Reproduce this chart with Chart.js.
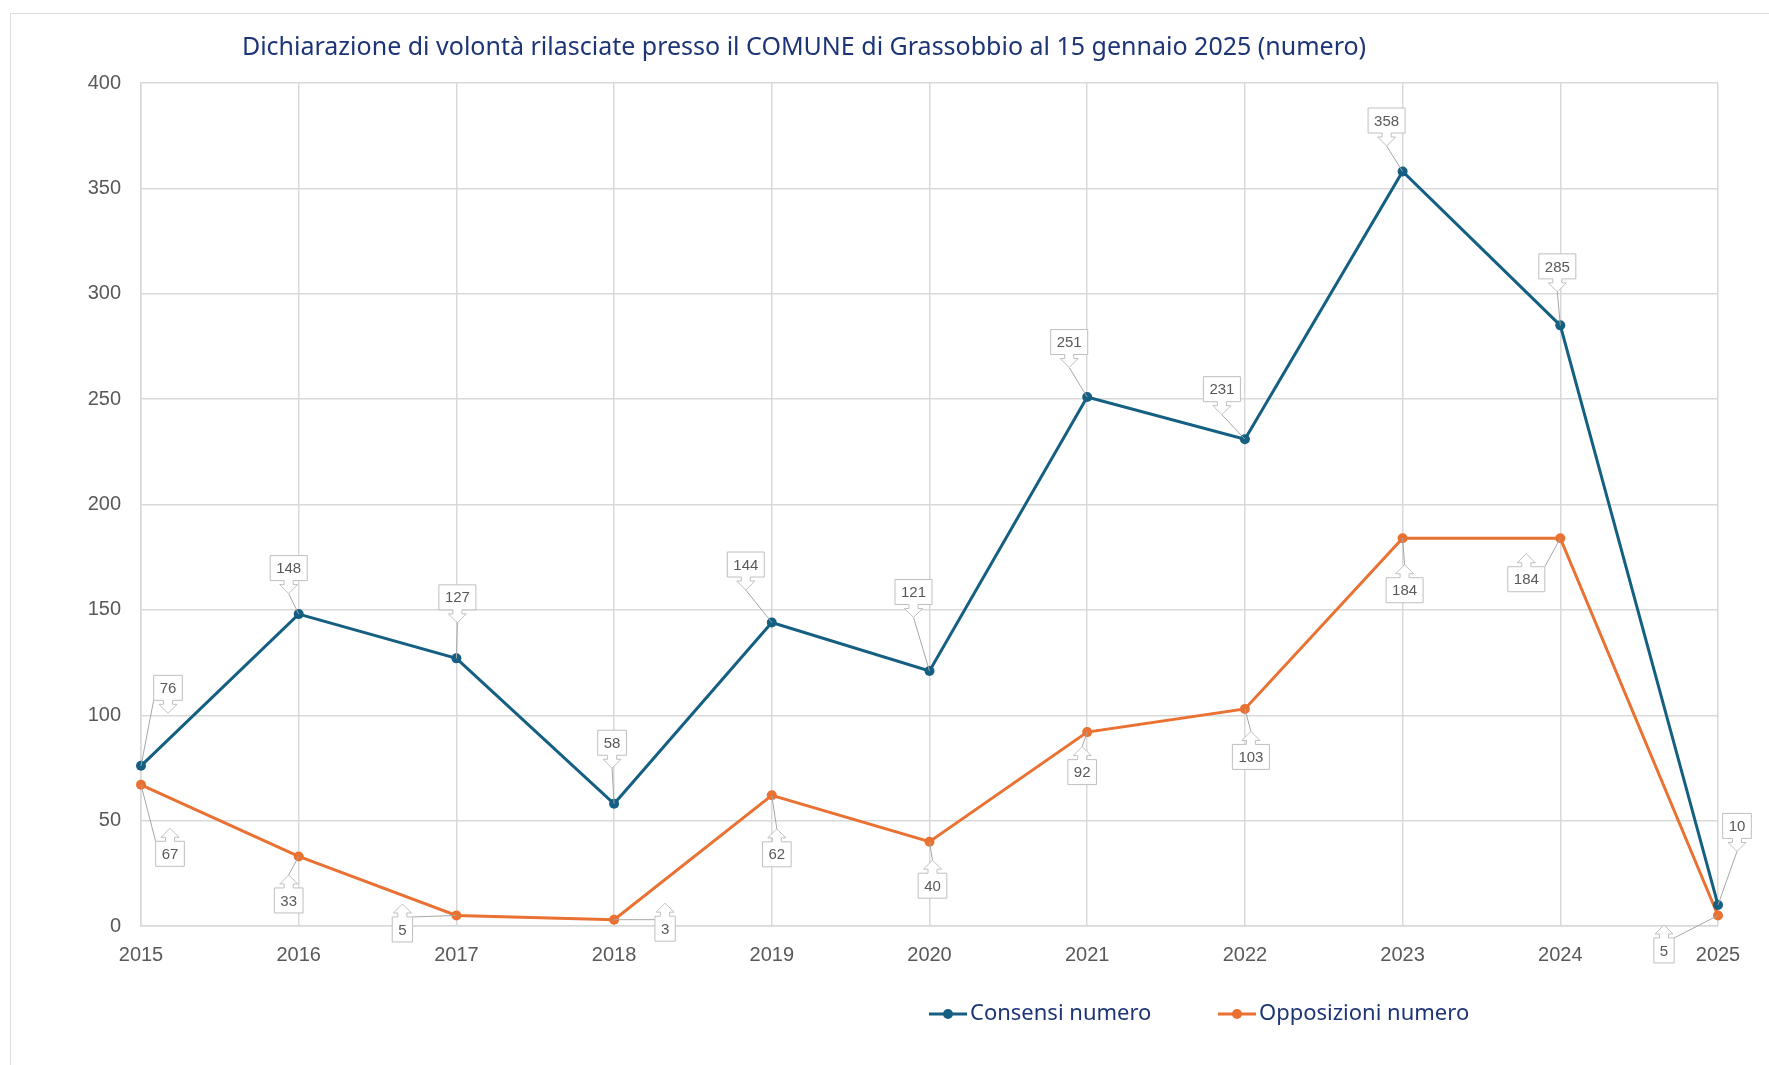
<!DOCTYPE html>
<html lang="it">
<head>
    <meta charset="UTF-8">
    <title>Dichiarazione di volontà - Grassobbio</title>
    <script src="https://cdn.jsdelivr.net/npm/chart.js"></script>
    <style>
        body {
            margin: 0;
            background: #ffffff;
        }

        #frame {
            position: absolute;
            left: 10px;
            top: 13px;
            width: 1800px;
            height: 1100px;
            border-left: 1px solid #dcdcdc;
            border-top: 1px solid #dcdcdc;
        }

        #chart {
            position: absolute;
            left: 0;
            top: 0;
        }
    </style>
</head>
<body>
    <div id="frame"></div>
    <canvas id="chart" width="1769" height="1065"></canvas>

    <script>
        const years = ['2015', '2016', '2017', '2018', '2019', '2020', '2021', '2022', '2023', '2024', '2025'];
        const consensi = [76, 148, 127, 58, 144, 121, 251, 231, 358, 285, 10];
        const opposizioni = [67, 33, 5, 3, 62, 40, 92, 103, 184, 184, 5];

        // where each callout box sits, relative to its point (px)
        const consensiLabelPos = [[27, -78], [-10, -46], [1, -61], [-2, -61], [-26, -58], [-16, -79], [-18, -55], [-23, -50], [-16, -51], [-3, -59], [19, -79]];
        const opposizioniLabelPos = [[29, 69], [-10, 44], [-54, 14], [51, 9], [5, 59], [3, 44], [-5, 40], [6, 48], [2, 52], [-34, 41], [-54, 35]];

        const BLUE = '#156082';
        const ORANGE = '#E97132';
        const NAVY = '#1D3577';
        const GREY_TEXT = '#595959';
        const GRID = '#d9d9d9';

        function drawCallout(ctx, px, py, cx, cy, text, up) {
            ctx.font = '15px "Liberation Sans"';
            const w = Math.max(ctx.measureText(text).width + 12, 19);
            const h = 25;
            const x0 = cx - w / 2, y0 = cy - h / 2;
            const stem = 4.5, stemLen = 4, head = 9, tipLen = 13;
            const tipY = up ? y0 - tipLen : y0 + h + tipLen;

            // leader line
            let tx = cx, ty = tipY;
            if (Math.abs(px - cx) > w / 2 + 10) {
                tx = Math.min(Math.max(px, x0), x0 + w);
                ty = Math.min(Math.max(py, y0), y0 + h);
            }
            ctx.save();
            ctx.strokeStyle = '#a6a6a6';
            ctx.lineWidth = 1;
            ctx.beginPath();
            ctx.moveTo(px, py);
            ctx.lineTo(tx, ty);
            ctx.stroke();

            // box with arrow
            ctx.beginPath();
            if (up) {
                const b = y0;
                ctx.moveTo(x0, y0);
                ctx.lineTo(cx - stem, b);
                ctx.lineTo(cx - stem, b - stemLen);
                ctx.lineTo(cx - head, b - stemLen);
                ctx.lineTo(cx, b - tipLen);
                ctx.lineTo(cx + head, b - stemLen);
                ctx.lineTo(cx + stem, b - stemLen);
                ctx.lineTo(cx + stem, b);
                ctx.lineTo(x0 + w, y0);
                ctx.lineTo(x0 + w, y0 + h);
                ctx.lineTo(x0, y0 + h);
                ctx.closePath();
            } else {
                const b = y0 + h;
                ctx.moveTo(x0, y0);
                ctx.lineTo(x0 + w, y0);
                ctx.lineTo(x0 + w, b);
                ctx.lineTo(cx + stem, b);
                ctx.lineTo(cx + stem, b + stemLen);
                ctx.lineTo(cx + head, b + stemLen);
                ctx.lineTo(cx, b + tipLen);
                ctx.lineTo(cx - head, b + stemLen);
                ctx.lineTo(cx - stem, b + stemLen);
                ctx.lineTo(cx - stem, b);
                ctx.lineTo(x0, b);
                ctx.closePath();
            }
            ctx.fillStyle = '#ffffff';
            ctx.fill();
            ctx.strokeStyle = '#bfbfbf';
            ctx.stroke();

            ctx.fillStyle = GREY_TEXT;
            ctx.textAlign = 'center';
            ctx.textBaseline = 'middle';
            ctx.fillText(text, cx, cy + 1);
            ctx.restore();
        }

        const calloutPlugin = {
            id: 'callouts',
            afterDatasetsDraw(chart) {
                const ctx = chart.ctx;
                const sets = [consensiLabelPos, opposizioniLabelPos];
                chart.data.datasets.forEach((ds, i) => {
                    const meta = chart.getDatasetMeta(i);
                    meta.data.forEach((pt, j) => {
                        const [dx, dy] = sets[i][j];
                        drawCallout(ctx, pt.x, pt.y, pt.x + dx, pt.y + dy, String(ds.data[j]), dy > 0);
                    });
                });
            }
        };

        const titlePlugin = {
            id: 'titleText',
            afterDraw(chart) {
                const ctx = chart.ctx;
                ctx.save();
                ctx.font = '25px "Noto Sans"';
                ctx.fillStyle = NAVY;
                ctx.textAlign = 'center';
                ctx.textBaseline = 'middle';
                ctx.fillText('Dichiarazione di volontà rilasciate presso il COMUNE di Grassobbio al 15 gennaio 2025 (numero)', 804, 48);
                ctx.restore();
            }
        };

        const legendPlugin = {
            id: 'legendRow',
            afterDraw(chart) {
                const ctx = chart.ctx;
                const y = 1014;
                const starts = [929, 1218];
                ctx.save();
                ctx.font = '22px "Noto Sans"';
                ctx.textBaseline = 'middle';
                chart.data.datasets.forEach((ds, i) => {
                    const x = starts[i];
                    ctx.strokeStyle = ds.borderColor;
                    ctx.lineWidth = 3;
                    ctx.beginPath();
                    ctx.moveTo(x, y);
                    ctx.lineTo(x + 38, y);
                    ctx.stroke();
                    ctx.fillStyle = ds.borderColor;
                    ctx.beginPath();
                    ctx.arc(x + 19, y, 5, 0, Math.PI * 2);
                    ctx.fill();
                    ctx.fillStyle = NAVY;
                    ctx.textAlign = 'left';
                    ctx.fillText(ds.label, x + 41, y);
                });
                ctx.restore();
            }
        };

        const ctx = document.getElementById('chart').getContext('2d');
        new Chart(ctx, {
            type: 'line',
            data: {
                labels: years,
                datasets: [
                    {
                        label: 'Consensi numero',
                        data: consensi,
                        borderColor: BLUE,
                        backgroundColor: BLUE,
                        borderWidth: 3,
                        pointRadius: 5,
                        pointBorderWidth: 0,
                        tension: 0,
                        fill: false
                    },
                    {
                        label: 'Opposizioni numero',
                        data: opposizioni,
                        borderColor: ORANGE,
                        backgroundColor: ORANGE,
                        borderWidth: 3,
                        pointRadius: 5,
                        pointBorderWidth: 0,
                        tension: 0,
                        fill: false
                    }
                ]
            },
            options: {
                responsive: false,
                animation: false,
                devicePixelRatio: 1,
                layout: {
                    padding: { left: 0, right: 51, top: 83, bottom: 0 }
                },
                plugins: {
                    legend: { display: false },
                    title: { display: false },
                    tooltip: { enabled: false }
                },
                scales: {
                    x: {
                        offset: false,
                        grid: { color: GRID, lineWidth: 1.5, drawTicks: false, offset: false },
                        border: { color: GRID, width: 1.5 },
                        ticks: {
                            color: GREY_TEXT,
                            font: { family: '"Liberation Sans"', size: 20 },
                            padding: 17,
                            maxRotation: 0,
                            autoSkip: false
                        },
                        afterFit(scale) { scale.height = 139; }
                    },
                    y: {
                        min: 0,
                        max: 400,
                        grid: { color: GRID, lineWidth: 1.5, drawTicks: false },
                        border: { color: GRID, width: 1.5 },
                        ticks: {
                            stepSize: 50,
                            color: GREY_TEXT,
                            font: { family: '"Liberation Sans"', size: 20 },
                            padding: 20
                        },
                        afterFit(scale) { scale.width = 141; }
                    }
                }
            },
            plugins: [calloutPlugin, titlePlugin, legendPlugin]
        });
    </script>
</body>
</html>
